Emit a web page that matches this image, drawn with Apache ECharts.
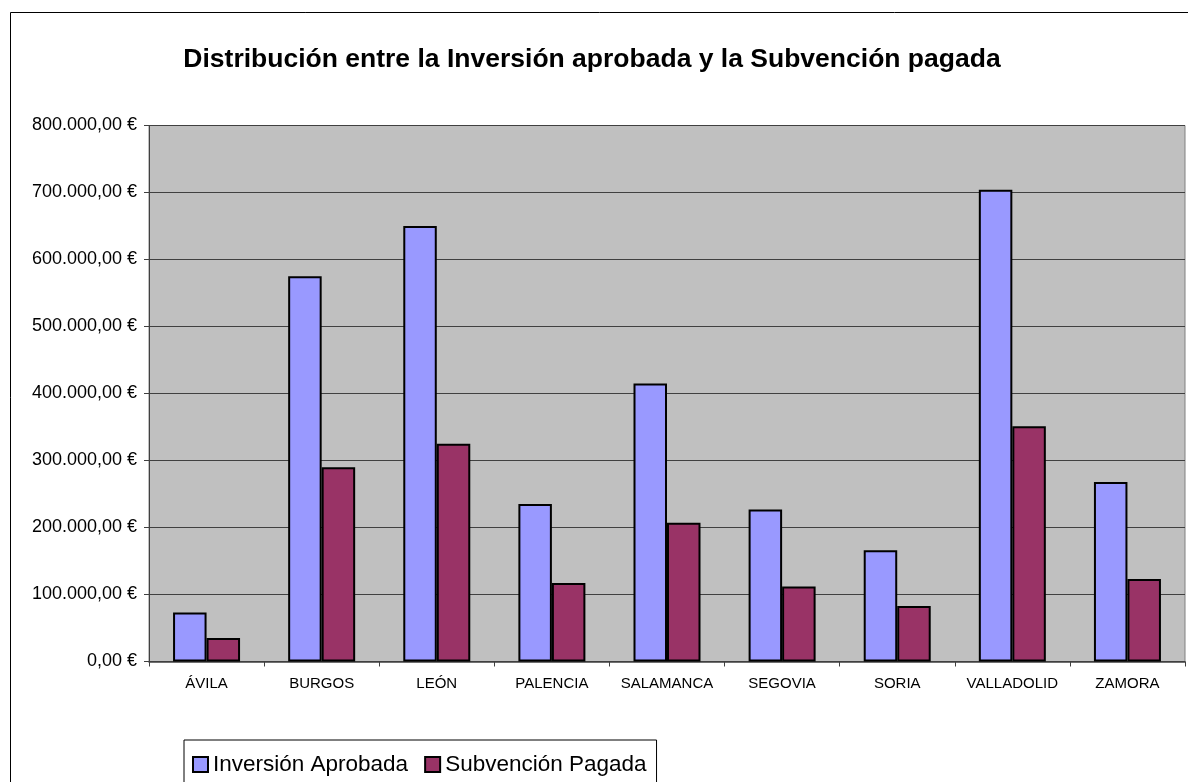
<!DOCTYPE html>
<html>
<head>
<meta charset="utf-8">
<script src="https://cdn.jsdelivr.net/npm/echarts@6/dist/echarts.min.js"></script>
<style>
  html, body { margin: 0; padding: 0; background: #fff; }
  #chart { width: 1188px; height: 782px; }
</style>
</head>
<body>
<div id="chart"></div>
<script>
const provincias = ["ÁVILA", "BURGOS", "LEÓN", "PALENCIA", "SALAMANCA", "SEGOVIA", "SORIA", "VALLADOLID", "ZAMORA"];
const inversionAprobada = [73000, 575000, 650000, 235000, 415000, 227000, 166000, 704000, 268000];
const subvencionPagada = [35000, 290000, 325000, 117000, 207000, 112000, 83000, 351000, 123000];
const yTicks = { min: 0, max: 800000, interval: 100000 };

const font = "Liberation Sans, Arial, sans-serif";

function euro(v) {
  const parts = v.toFixed(2).split(".");
  const int = parts[0].replace(/\B(?=(\d{3})+(?!\d))/g, ".");
  return int + "," + parts[1] + " €";
}

const chart = echarts.init(document.getElementById("chart"), null, { renderer: "canvas" });

chart.setOption({
  animation: false,
  backgroundColor: "#ffffff",
  textStyle: { fontFamily: font },
  title: {
    text: "Distribución entre la Inversión aprobada y la Subvención pagada",
    left: 587,
    textAlign: "center",
    top: 41,
    textStyle: { fontFamily: font, fontSize: 26.5, fontWeight: "bold", color: "#000" },
  },
  graphic: [
    {
      type: "rect",
      shape: { x: 10.5, y: 12.5, width: 1300, height: 900 },
      style: { fill: null, stroke: "#000", lineWidth: 1 },
      silent: true,
      z: -10,
    },
  ],
  legend: {
    left: 184,
    top: 740,
    itemWidth: 15,
    itemHeight: 15,
    itemGap: 16,
    padding: [13, 10, 20, 8],
    borderColor: "#000",
    borderWidth: 1,
    icon: "rect",
    textStyle: { fontFamily: font, fontSize: 22.5, color: "#000" },
    data: ["Inversión Aprobada", "Subvención Pagada"],
  },
  grid: {
    left: 149,
    right: 3,
    top: 125.5,
    bottom: 120.5,
    show: true,
    backgroundColor: "#c0c0c0",
    borderColor: "#808080",
    borderWidth: 1,
  },
  xAxis: {
    type: "category",
    data: provincias,
    axisLine: { lineStyle: { color: "#404040", width: 1.5 } },
    axisTick: { show: true, length: 5, lineStyle: { color: "#404040" } },
    axisLabel: { color: "#000", fontSize: 15, fontFamily: font, margin: 15, interval: 0 },
  },
  yAxis: {
    type: "value",
    min: yTicks.min,
    max: yTicks.max,
    interval: yTicks.interval,
    axisLine: { show: true, lineStyle: { color: "#404040", width: 1 } },
    axisTick: { show: true, length: 5, lineStyle: { color: "#404040" } },
    axisLabel: { color: "#000", fontSize: 18, fontFamily: font, margin: 12, formatter: euro },
    splitLine: { show: true, lineStyle: { color: "#404040", width: 1 } },
  },
  series: [
    {
      name: "Inversión Aprobada",
      type: "bar",
      data: inversionAprobada,
      barWidth: 33.5,
      barGap: "0%",
      itemStyle: { color: "#9999ff", borderColor: "#000", borderWidth: 2 },
    },
    {
      name: "Subvención Pagada",
      type: "bar",
      data: subvencionPagada,
      barWidth: 33.5,
      barGap: "0%",
      itemStyle: { color: "#993366", borderColor: "#000", borderWidth: 2 },
    },
  ],
});
</script>
</body>
</html>
